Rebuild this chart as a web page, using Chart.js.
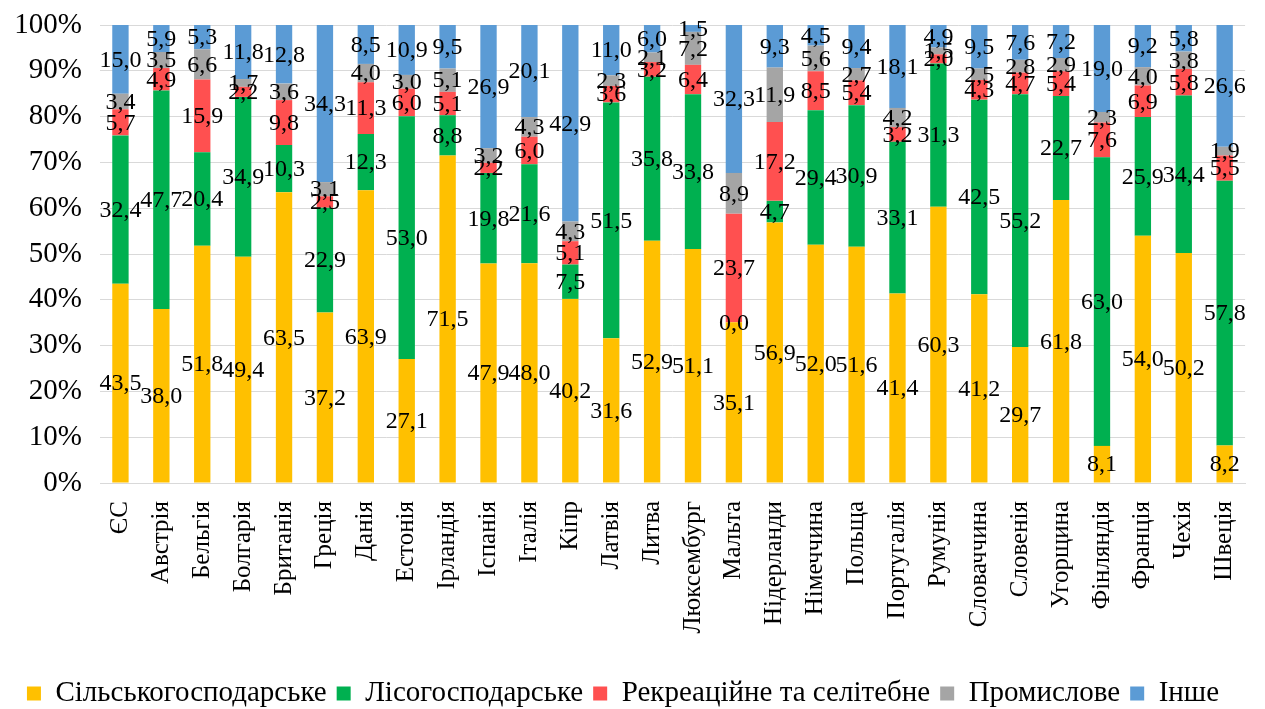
<!DOCTYPE html>
<html>
<head>
<meta charset="utf-8">
<script src="https://cdn.jsdelivr.net/npm/chart.js@4/dist/chart.umd.min.js"></script>
<style>
  html, body { margin: 0; padding: 0; background: #fff; }
  #wrap { width: 1265px; height: 709px; }
</style>
</head>
<body>
<div id="wrap"><canvas id="myChart" width="1265" height="709"></canvas></div>
<script>
// land use structure, % of total area
const countries = ['ЄС','Австрія','Бельгія','Болгарія','Британія','Греція','Данія','Естонія','Ірландія','Іспанія',
  'Італія','Кіпр','Латвія','Литва','Люксембург','Мальта','Нідерланди','Німеччина','Польща','Португалія',
  'Румунія','Словаччина','Словенія','Угорщина','Фінляндія','Франція','Чехія','Швеція'];

const agri     = [43.5,38.0,51.8,49.4,63.5,37.2,63.9,27.1,71.5,47.9,48.0,40.2,31.6,52.9,51.1,35.1,56.9,52.0,51.6,41.4,60.3,41.2,29.7,61.8,8.1,54.0,50.2,8.2];
const forest   = [32.4,47.7,20.4,34.9,10.3,22.9,12.3,53.0,8.8,19.8,21.6,7.5,51.5,35.8,33.8,0.0,4.7,29.4,30.9,33.1,31.3,42.5,55.2,22.7,63.0,25.9,34.4,57.8];
const recreat  = [5.7,4.9,15.9,2.2,9.8,2.5,11.3,6.0,5.1,2.2,6.0,5.1,3.6,3.2,6.4,23.7,17.2,8.5,5.4,3.2,2.0,4.3,4.7,5.4,7.6,6.9,5.8,5.5];
const industry = [3.4,3.5,6.6,1.7,3.6,3.1,4.0,3.0,5.1,3.2,4.3,4.3,2.3,2.1,7.2,8.9,11.9,5.6,2.7,4.2,1.5,2.5,2.8,2.9,2.3,4.0,3.8,1.9];
const other    = [15.0,5.9,5.3,11.8,12.8,34.3,8.5,10.9,9.5,26.9,20.1,42.9,11.0,6.0,1.5,32.3,9.3,4.5,9.4,18.1,4.9,9.5,7.6,7.2,19.0,9.2,5.8,26.6];

const seriesNames = ['Сільськогосподарське','Лісогосподарське','Рекреаційне та селітебне','Промислове','Інше'];
const yTicks = [0,10,20,30,40,50,60,70,80,90,100];

const colors = ['#FFC000','#00B050','#FF5050','#A5A5A5','#5B9BD5'];
const serif = '"Liberation Serif", "Times New Roman", serif';

// labels in the middle of every segment
const segLabels = {
  id: 'segLabels',
  afterDatasetsDraw(chart) {
    const ctx = chart.ctx;
    ctx.save();
    ctx.font = '24px ' + serif;
    ctx.fillStyle = '#000';
    ctx.textAlign = 'center';
    ctx.textBaseline = 'middle';
    chart.data.datasets.forEach((ds, i) => {
      const meta = chart.getDatasetMeta(i);
      meta.data.forEach((bar, j) => {
        const p = bar.getProps(['x','y','base'], true);
        const txt = ds.data[j].toFixed(1).replace('.', ',');
        ctx.fillText(txt, p.x, (p.y + p.base) / 2 + 1);
      });
    });
    ctx.restore();
  }
};

const allData = [agri, forest, recreat, industry, other];

const ctx = document.getElementById('myChart');

new Chart(ctx, {
  type: 'bar',
  data: {
    labels: countries,
    datasets: allData.map((d, i) => ({
      label: seriesNames[i],
      data: d,
      backgroundColor: colors[i],
      borderWidth: 0,
      categoryPercentage: 1,
      barPercentage: 0.4
    }))
  },
  options: {
    responsive: false,
    animation: false,
    layout: { padding: { top: 25, right: 19, left: 0, bottom: -9 } },
    scales: {
      x: {
        stacked: true,
        grid: { display: false },
        border: { color: '#d9d9d9' },
        ticks: {
          color: '#000',
          font: { family: serif, size: 25 },
          minRotation: 90, maxRotation: 90,
          padding: 10,
          autoSkip: false
        },
        afterFit(scale) { scale.height = 186; }
      },
      y: {
        stacked: true,
        min: 0, max: 100,
        afterBuildTicks(scale) { scale.ticks = yTicks.map(v => ({ value: v })); },
        grid: { color: '#d9d9d9', drawTicks: false },
        border: { display: false },
        ticks: {
          color: '#000',
          font: { family: serif, size: 29 },
          padding: 18,
          callback: v => v + '%'
        },
        afterFit(scale) {
          scale.width = 100;
          scale.paddingTop = 0;
          scale.paddingBottom = 0;
        }
      }
    },
    plugins: {
      legend: {
        position: 'bottom',
        labels: {
          color: '#000',
          font: { family: serif, size: 29 },
          boxWidth: 14, boxHeight: 14,
          padding: 10
        }
      },
      tooltip: { enabled: false }
    }
  },
  plugins: [segLabels]
});
</script>
</body>
</html>
